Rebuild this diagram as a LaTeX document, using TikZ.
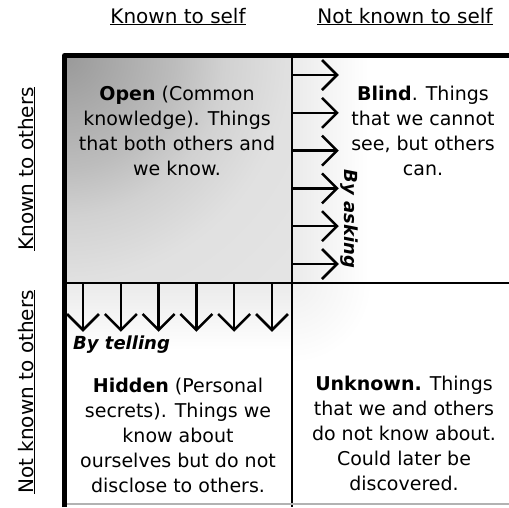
\documentclass[tikz,border=0pt]{standalone}
\usepackage{fontspec}
\setmainfont{DejaVu Sans}
\pgfdeclareradialshading{openglow}{\pgfpoint{0bp}{0bp}}{color(0bp)=(black!40); color(7bp)=(black!26); color(10bp)=(black!18); color(14bp)=(black!12); color(25bp)=(black!9); color(50bp)=(black!9)}
\pgfdeclareradialshading{cornerglow}{\pgfpoint{0bp}{0bp}}{color(0bp)=(black!6); color(25bp)=(white); color(50bp)=(white)}
\begin{document}
\begin{tikzpicture}[x=1pt,y=-1pt,
  body/.style={font=\fontsize{19}{25}\selectfont, align=center, inner sep=0pt, text=black},
  lab/.style={font=\fontsize{20}{24}\selectfont, inner sep=0pt, text=black},
  way/.style={font=\fontsize{18}{22}\selectfont\bfseries\itshape, inner sep=0pt, text=black},
  thickline/.style={line width=5pt},
  divline/.style={line width=2.7pt},
  arr/.style={line width=2.5pt, line join=miter}]
\useasboundingbox (0,0) rectangle (509,507);
\fill[white] (0,0) rectangle (509,507);
% glow spilling out of the open quadrant
\shade[left color=black!8, right color=white] (292,56) rectangle (368,283);
\shade[top color=black!8, bottom color=white] (64,283) rectangle (292,350);
\begin{scope}
  \clip (292,283) rectangle (509,507);
  \shade[shading=cornerglow] (292,283) circle[radius=80pt];
\end{scope}
\begin{scope}
  \clip (64,56) rectangle (292,283);
  \shade[shading=openglow] (64,56) circle[radius=400pt];
\end{scope}
% grid
\draw[thickline, line join=round] (64.5,507) -- (64.5,55.5) -- (509,55.5);
\draw[divline] (292,55.5) -- (292,507);
\draw[divline] (64.5,283) -- (509,283);
\draw[gray!60, line width=1.2pt] (67,504) -- (509,504);
% arrows by asking
\foreach \i in {0,...,5}{
  \pgfmathsetmacro\yy{75+37.8*\i}
  \draw[arr] (292,\yy) -- (337,\yy);
  \draw[arr] (322,\yy-15) -- (337,\yy) -- (322,\yy+15);
}
% arrows by telling
\foreach \i in {0,...,5}{
  \pgfmathsetmacro\xx{83+37.8*\i}
  \draw[arr] (\xx,283) -- (\xx,330);
  \draw[arr] (\xx-16,314) -- (\xx,330) -- (\xx+16,314);
}
% labels
\node[lab, anchor=base] (kself) at (178,23) {\underline{Known to self}};
\node[lab, anchor=base] (nkself) at (405,23) {\underline{Not known to self}};
\node[lab, anchor=base, rotate=90] (kothers) at (33,169) {\underline{Known to others}};
\node[lab, anchor=base, rotate=90] (nkothers) at (33,392) {\underline{Not known to others}};
% quadrant texts
\node[body] (open) at (177,131) {\textbf{Open} (Common\\knowledge). Things\\that both others and\\we know.};
\node[body] (blind) at (423,131) {\textbf{Blind}. Things\\that we cannot\\see, but others\\can.};
\node[body] (hidden) at (178,435) {\textbf{Hidden} (Personal\\secrets). Things we\\know about\\ourselves but do not\\disclose to others.};
\node[body] (unknown) at (404,433) {\textbf{Unknown.} Things\\that we and others\\do not know about.\\Could later be\\discovered.};
\node[way, anchor=base west] (telling) at (73,349) {By telling};
\node[way, rotate=-90] (asking) at (349,219) {By asking};
\end{tikzpicture}
\end{document}
